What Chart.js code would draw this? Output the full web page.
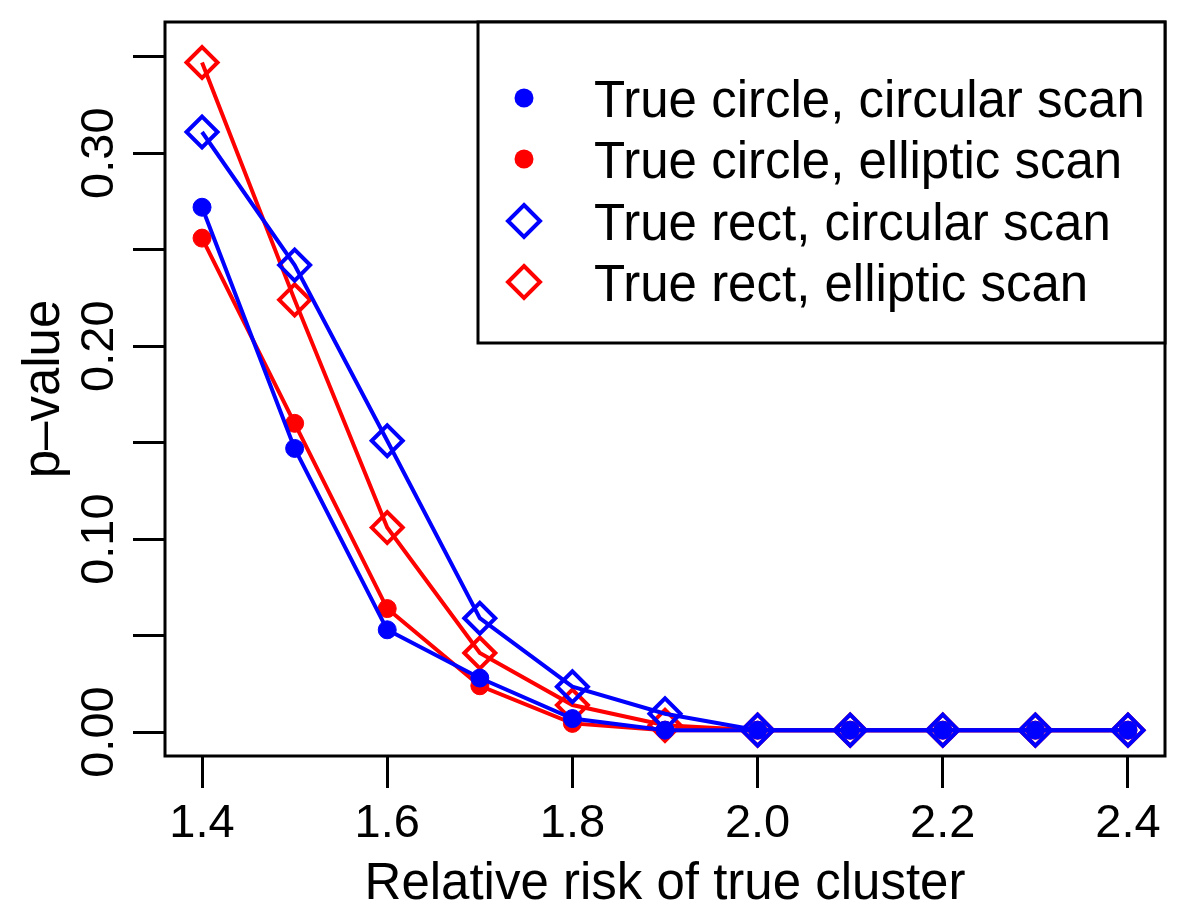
<!DOCTYPE html>
<html>
<head>
<meta charset="utf-8">
<title>p-value vs relative risk</title>
<script src="https://cdn.jsdelivr.net/npm/chart.js@4.4.0/dist/chart.umd.min.js"></script>
<style>
  html, body { margin: 0; padding: 0; background: #fff; }
  #wrap { width: 1200px; height: 923px; }
</style>
</head>
<body>
<div id="wrap"><canvas id="pvalChart" width="1200" height="923"></canvas></div>
<script>
// Relative risk of the true cluster (x values)
const relRisk = [1.4, 1.5, 1.6, 1.7, 1.8, 1.9, 2.0, 2.1, 2.2, 2.3, 2.4];

// p-values
const circleCircular = [0.272, 0.147, 0.053, 0.028, 0.007, 0.001, 0.001, 0.001, 0.001, 0.001, 0.001];
const circleElliptic = [0.256, 0.160, 0.064, 0.024, 0.0045, 0.001, 0.001, 0.001, 0.001, 0.001, 0.001];
const rectCircular = [0.311, 0.242, 0.151, 0.059, 0.0235, 0.0095, 0.001, 0.001, 0.001, 0.001, 0.001];
const rectElliptic = [0.347, 0.224, 0.106, 0.041, 0.014, 0.0035, 0.001, 0.001, 0.001, 0.001, 0.001];

// Axis ticks
const xTicks = [1.4, 1.6, 1.8, 2.0, 2.2, 2.4];
const yTicks = [0, 0.05, 0.1, 0.15, 0.2, 0.25, 0.3, 0.35];
const yLabelled = [0, 0.1, 0.2, 0.3];

const seriesLabels = [
  "True circle, circular scan",
  "True circle, elliptic scan",
  "True rect, circular scan",
  "True rect, elliptic scan",
];

const BLUE = "#0000ff";
const RED = "#ff0000";
const FONT = '"Liberation Sans", Arial, Helvetica, sans-serif';

Chart.defaults.font.family = FONT;
Chart.defaults.color = "#000";

function toPoints(values) {
  return values.map((v, i) => ({ x: relRisk[i], y: v }));
}

function makeSeries(label, values, color, shape, order) {
  const diamond = shape === "diamond";
  return {
    label: label,
    data: toPoints(values),
    borderColor: color,
    borderWidth: 4,
    pointStyle: diamond ? "rectRot" : "circle",
    pointRadius: diamond ? 15.5 : 9,
    pointBorderWidth: diamond ? 4 : 1,
    pointBorderColor: color,
    pointBackgroundColor: diamond ? "rgba(0,0,0,0)" : color,
    pointHoverRadius: diamond ? 15.5 : 9,
    tension: 0,
    fill: false,
    order: order,
    _shape: shape,
  };
}

// Box around the plot plus the R-style legend in the top-right corner
const framePlugin = {
  id: "framePlugin",
  afterDraw(chart) {
    const { ctx, chartArea } = chart;
    ctx.save();
    ctx.strokeStyle = "#000";
    ctx.lineWidth = 3;
    ctx.strokeRect(chartArea.left, chartArea.top,
      chartArea.right - chartArea.left, chartArea.bottom - chartArea.top);

    // legend box
    const lx = 478, ly = chartArea.top, lw = chartArea.right - 478, lh = 321;
    ctx.fillStyle = "#fff";
    ctx.fillRect(lx, ly, lw, lh);
    ctx.strokeRect(lx, ly, lw, lh);

    const baselines = [117, 178, 240, 301];
    ctx.font = "51px " + FONT;
    ctx.textAlign = "left";
    ctx.textBaseline = "alphabetic";
    chart.data.datasets.forEach((ds, row) => {
      const cx = 524, cy = baselines[row] - 19;
      ctx.strokeStyle = ds.borderColor;
      ctx.fillStyle = ds.borderColor;
      ctx.lineWidth = 4;
      if (ds._shape === "diamond") {
        const r = 16;
        ctx.beginPath();
        ctx.moveTo(cx, cy - r);
        ctx.lineTo(cx + r, cy);
        ctx.lineTo(cx, cy + r);
        ctx.lineTo(cx - r, cy);
        ctx.closePath();
        ctx.stroke();
      } else {
        ctx.beginPath();
        ctx.arc(cx, cy, 9.5, 0, Math.PI * 2);
        ctx.fill();
      }
      ctx.fillStyle = "#000";
      ctx.fillText(ds.label, 594, baselines[row]);
    });
    ctx.restore();
  },
};

const ctx = document.getElementById("pvalChart").getContext("2d");

new Chart(ctx, {
  type: "line",
  data: {
    datasets: [
      makeSeries(seriesLabels[0], circleCircular, BLUE, "dot", 0),
      makeSeries(seriesLabels[1], circleElliptic, RED, "dot", 2),
      makeSeries(seriesLabels[2], rectCircular, BLUE, "diamond", 1),
      makeSeries(seriesLabels[3], rectElliptic, RED, "diamond", 3),
    ],
  },
  options: {
    responsive: false,
    animation: false,
    events: [],
    layout: { padding: { top: 22, right: 35, left: 0, bottom: 0 } },
    plugins: {
      legend: { display: false },
      tooltip: { enabled: false },
    },
    scales: {
      x: {
        type: "linear",
        min: 1.36,
        max: 2.44,
        afterFit: (scale) => { scale.height = 167; },
        afterBuildTicks: (scale) => { scale.ticks = xTicks.map((v) => ({ value: v })); },
        border: { display: false },
        grid: {
          drawOnChartArea: false,
          drawTicks: true,
          tickLength: 32,
          tickWidth: 3,
          tickColor: "#000",
        },
        ticks: {
          autoSkip: false,
          maxRotation: 0,
          padding: 8,
          color: "#000",
          font: { size: 47 },
          callback: (v) => Number(v).toFixed(1),
        },
        title: {
          display: true,
          text: "Relative risk of true cluster",
          color: "#000",
          font: { size: 51 },
          padding: { top: 0, bottom: 7 },
        },
      },
      y: {
        type: "linear",
        min: -0.0124,
        max: 0.368,
        afterFit: (scale) => { scale.width = 165; },
        afterBuildTicks: (scale) => { scale.ticks = yTicks.map((v) => ({ value: v })); },
        border: { display: false },
        grid: {
          drawOnChartArea: false,
          drawTicks: true,
          tickLength: 32,
          tickWidth: 3,
          tickColor: "#000",
        },
        ticks: {
          autoSkip: false,
          minRotation: 90,
          maxRotation: 90,
          crossAlign: "center",
          padding: -13,
          color: "#000",
          font: { size: 47 },
          callback: (v) => {
            const hit = yLabelled.some((t) => Math.abs(t - v) < 1e-9);
            return hit ? Number(v).toFixed(2) : "";
          },
        },
        title: {
          display: true,
          text: "p\u2013value",
          color: "#000",
          font: { size: 51 },
          padding: { top: 14, bottom: 0 },
        },
      },
    },
  },
  plugins: [framePlugin],
});
</script>
</body>
</html>
